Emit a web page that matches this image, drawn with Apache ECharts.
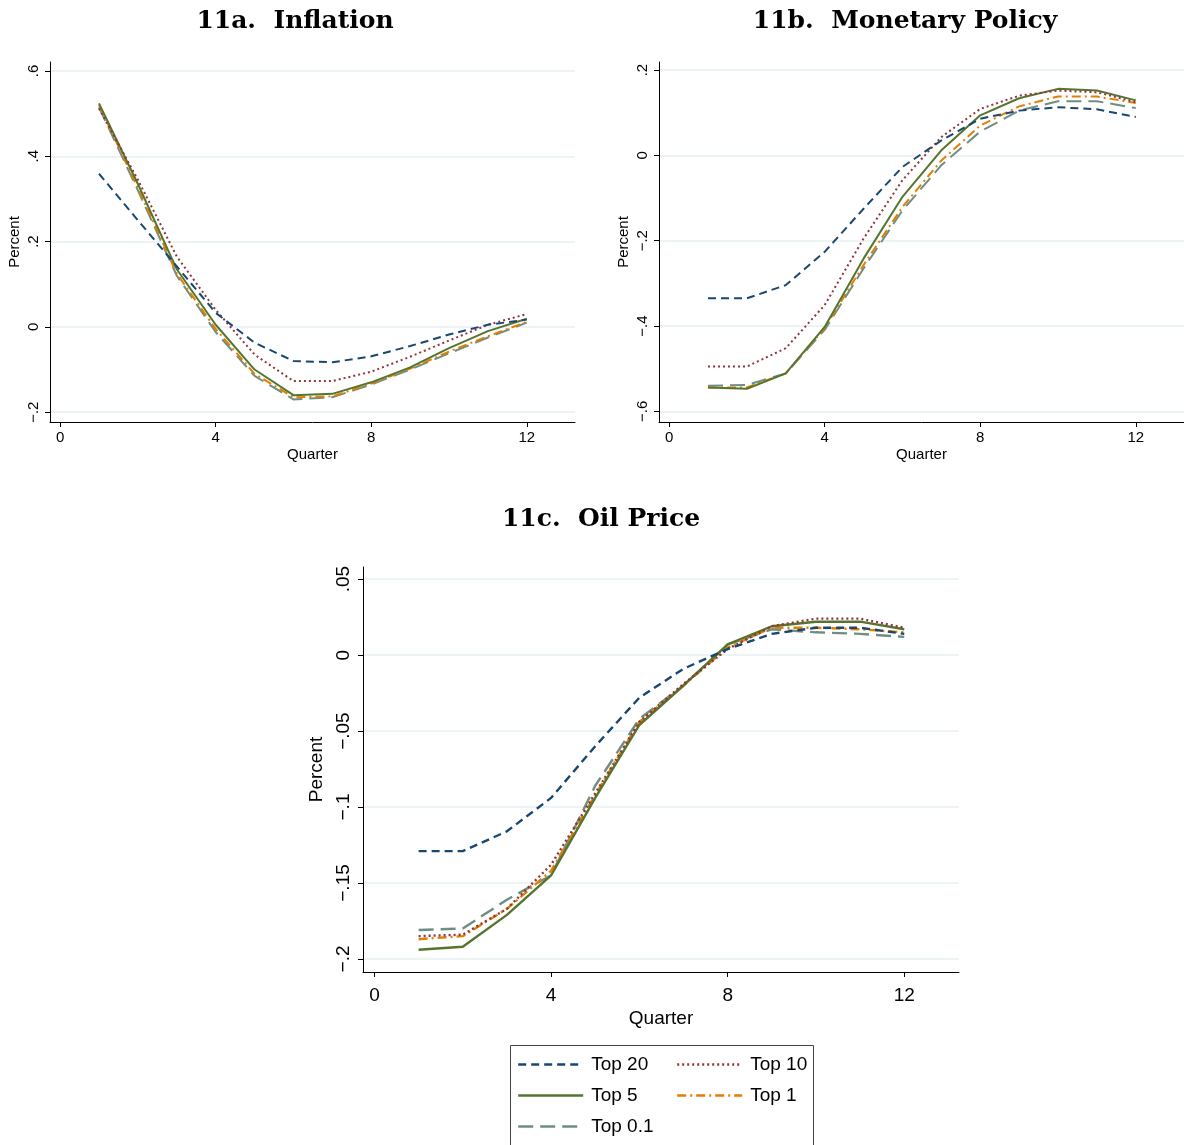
<!DOCTYPE html>
<html>
<head>
<meta charset="utf-8">
<script src="https://cdn.jsdelivr.net/npm/echarts@6/dist/echarts.min.js"></script>
<style>
  html, body { margin: 0; padding: 0; background: #fff; }
  #chart { width: 1184px; height: 1145px; }
</style>
</head>
<body>
<div id="chart"></div>
<script>
// quarters after the shock
const quarters = [1, 2, 3, 4, 5, 6, 7, 8, 9, 10, 11, 12];
const seriesNames = ['Top 20', 'Top 10', 'Top 5', 'Top 1', 'Top 0.1'];

// 11a. Inflation
const infTop20 = [0.359, 0.25, 0.142, 0.033, -0.037, -0.080, -0.083, -0.069, -0.045, -0.018, 0.005, 0.017];
const infTop10 = [0.512, 0.345, 0.165, 0.04, -0.065, -0.127, -0.127, -0.105, -0.07, -0.032, 0.005, 0.03];
const infTop5 = [0.524, 0.335, 0.135, 0.005, -0.10, -0.16, -0.157, -0.13, -0.095, -0.05, -0.01, 0.019];
const infTop1 = [0.52, 0.325, 0.125, -0.005, -0.11, -0.165, -0.163, -0.133, -0.098, -0.058, -0.022, 0.012];
const infTop01 = [0.515, 0.32, 0.12, -0.012, -0.115, -0.17, -0.165, -0.135, -0.10, -0.062, -0.025, 0.01];

// 11b. Monetary Policy
const monTop20 = [-0.335, -0.335, -0.304, -0.226, -0.125, -0.027, 0.035, 0.086, 0.105, 0.113, 0.108, 0.090];
const monTop10 = [-0.495, -0.495, -0.452, -0.351, -0.195, -0.058, 0.043, 0.109, 0.140, 0.152, 0.148, 0.125];
const monTop5 = [-0.544, -0.547, -0.511, -0.402, -0.242, -0.097, 0.012, 0.094, 0.134, 0.156, 0.152, 0.129];
const monTop1 = [-0.544, -0.544, -0.511, -0.405, -0.257, -0.121, -0.012, 0.070, 0.115, 0.138, 0.138, 0.123];
const monTop01 = [-0.540, -0.538, -0.511, -0.409, -0.265, -0.129, -0.023, 0.056, 0.105, 0.127, 0.127, 0.111];

// 11c. Oil Price
const oilTop20 = [-0.129, -0.129, -0.116, -0.094, -0.060, -0.028, -0.009, 0.004, 0.014, 0.018, 0.018, 0.014];
const oilTop10 = [-0.185, -0.184, -0.167, -0.138, -0.091, -0.044, -0.019, 0.004, 0.019, 0.024, 0.024, 0.018];
const oilTop5 = [-0.194, -0.192, -0.171, -0.145, -0.094, -0.046, -0.020, 0.007, 0.019, 0.022, 0.022, 0.017];
const oilTop1 = [-0.187, -0.185, -0.167, -0.142, -0.092, -0.044, -0.020, 0.005, 0.018, 0.018, 0.017, 0.015];
const oilTop01 = [-0.181, -0.180, -0.161, -0.145, -0.086, -0.042, -0.020, 0.007, 0.017, 0.015, 0.014, 0.012];

// tick labels
const xTicks = [0, 4, 8, 12];
const infTicks = [-0.2, 0, 0.2, 0.4, 0.6];
const monTicks = [-0.6, -0.4, -0.2, 0, 0.2];
const oilTicks = [-0.2, -0.15, -0.1, -0.05, 0, 0.05];

const colors = ['#1a476f', '#90353b', '#55752f', '#e37e00', '#6e8e84'];
const dashes = [[8, 5], [2, 3], 'solid', [9, 4, 2, 4], [15, 7]];

const chart = echarts.init(document.getElementById('chart'));

// Stata style numbers: ".2", "−.05"
function fmt(v) {
  const n = parseFloat(v.toFixed(3));
  if (n === 0) return '0';
  let s = Math.abs(n).toString().replace(/^0/, '');
  return n < 0 ? '\u2212' + s : s;
}

function xAxis(idx, fs, margin, gap) {
  return {
    type: 'value', gridIndex: idx, min: -0.26, max: 13.24,
    name: 'Quarter', nameLocation: 'middle', nameGap: gap,
    nameTextStyle: { fontFamily: 'Liberation Sans', fontSize: fs, color: '#000' },
    axisLine: { onZero: false, lineStyle: { color: '#000', width: 1 } },
    axisTick: { show: true, length: 5, customValues: xTicks, lineStyle: { color: '#000' } },
    axisLabel: { customValues: xTicks, margin: margin, fontFamily: 'Liberation Sans', fontSize: fs, color: '#000' },
    splitLine: { show: false }
  };
}

function yAxis(idx, min, max, ticks, fs, margin, gap) {
  return {
    type: 'value', gridIndex: idx, min: min, max: max,
    name: 'Percent', nameLocation: 'middle', nameGap: gap,
    nameTextStyle: { fontFamily: 'Liberation Sans', fontSize: fs, color: '#000' },
    axisLine: { show: true, onZero: false, lineStyle: { color: '#000', width: 1 } },
    axisTick: { show: true, length: 5, customValues: ticks, lineStyle: { color: '#000' } },
    axisLabel: { customValues: ticks, rotate: 90, margin: margin, formatter: fmt,
      fontFamily: 'Liberation Sans', fontSize: fs, color: '#000' },
    splitLine: { show: true, lineStyle: { color: '#e6eff1', width: 1.5 } }
  };
}

function lines(idx, arrays, w) {
  return arrays.map((arr, i) => ({
    name: seriesNames[i],
    type: 'line',
    xAxisIndex: idx,
    yAxisIndex: idx,
    symbol: 'none',
    silent: true,
    data: quarters.map((q, k) => [q, arr[k]]),
    lineStyle: { color: colors[i], width: w, type: dashes[i] },
    itemStyle: { color: colors[i] },
    z: 10 - i
  }));
}

function legend(names, left, top) {
  return {
    data: names, left: left, top: top, orient: 'vertical',
    itemWidth: 65, itemHeight: 14, itemGap: 12, padding: 0, selectedMode: false,
    itemStyle: { opacity: 0 },
    lineStyle: { width: 2.4 },
    textStyle: { fontFamily: 'Liberation Sans', fontSize: 19, color: '#000', padding: [0, 0, 0, 3] }
  };
}

const titleFont = { fontFamily: 'DejaVu Serif', fontWeight: 'bold', fontSize: 25, color: '#000' };

chart.setOption({
  animation: false,
  backgroundColor: '#fff',
  title: [
    { text: '11a.  Inflation', left: 290, top: 4, textAlign: 'center', textStyle: titleFont },
    { text: '11b.  Monetary Policy', left: 900, top: 4, textAlign: 'center', textStyle: titleFont },
    { text: '11c.  Oil Price', left: 596, top: 502, textAlign: 'center', textStyle: titleFont }
  ],
  grid: [
    { left: 50, top: 62, width: 525, height: 360 },
    { left: 659, top: 62, width: 525, height: 360 },
    { left: 363, top: 567, width: 596, height: 405 }
  ],
  xAxis: [
    xAxis(0, 15, 8, 25),
    xAxis(1, 15, 8, 25),
    xAxis(2, 19, 14, 37)
  ],
  yAxis: [
    yAxis(0, -0.223, 0.621, infTicks, 15, 9, 28),
    yAxis(1, -0.625, 0.219, monTicks, 15, 9, 28),
    yAxis(2, -0.2086, 0.058, oilTicks, 19, 10, 27)
  ],
  graphic: [{
    type: 'rect', left: 510, top: 1045, z: 0,
    shape: { width: 303, height: 110 },
    style: { fill: '#fff', stroke: '#444', lineWidth: 1 }
  }],
  legend: [
    legend(['Top 20', 'Top 5', 'Top 0.1'], 517, 1055),
    legend(['Top 10', 'Top 1'], 676, 1055)
  ],
  series: [].concat(
    lines(0, [infTop20, infTop10, infTop5, infTop1, infTop01], 2),
    lines(1, [monTop20, monTop10, monTop5, monTop1, monTop01], 2),
    lines(2, [oilTop20, oilTop10, oilTop5, oilTop1, oilTop01], 2.4)
  )
});
</script>
</body>
</html>
